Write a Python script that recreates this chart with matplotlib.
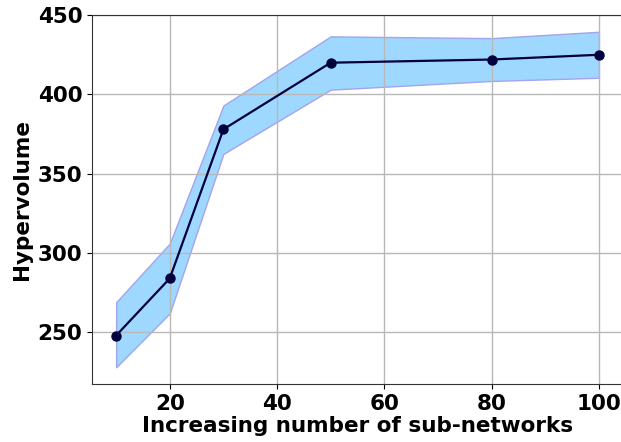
import matplotlib
matplotlib.use("Agg")
import matplotlib.pyplot as plt

# Hypervolume vs. number of sub-networks (mean with spread band)
sub_networks = [10, 20, 30, 50, 80, 100]
hv_mean = [248, 284, 378, 420, 422, 425]
hv_upper = [269, 306, 393, 436.6, 435.5, 439.5]
hv_lower = [228, 262, 362.5, 403, 408.5, 410.5]

plt.rcParams['font.family'] = 'DejaVu Sans'
plt.rcParams['font.weight'] = 'bold'

fig = plt.figure(figsize=(6.21, 4.42), dpi=100)
ax = fig.add_axes([92 / 621, 58 / 442, 531 / 621, 369 / 442])

ax.fill_between(sub_networks, hv_lower, hv_upper,
                facecolor='#9fd8fe', edgecolor='#a3a3ee', linewidth=1.0)
ax.plot(sub_networks, hv_mean, color='#00003f', linewidth=1.6,
        marker='o', markersize=6.5, zorder=3)

ax.grid(True, color='#b8b8b8', linewidth=1.0)
ax.set_yticks([250, 300, 350, 400, 450])
ax.set_xticks([20, 40, 60, 80, 100])

ax.tick_params(labelsize=15.5)
for lbl in ax.get_xticklabels() + ax.get_yticklabels():
    lbl.set_fontweight('bold')

ax.set_xlabel('Increasing number of sub-networks', fontsize=15.5,
              fontweight='bold', labelpad=2)
ax.set_ylabel('Hypervolume', fontsize=15.5, fontweight='bold', labelpad=4)

for s in ax.spines.values():
    s.set_color('#333333')
ax.spines['right'].set_visible(False)

fig.savefig('out.png', dpi=100)
